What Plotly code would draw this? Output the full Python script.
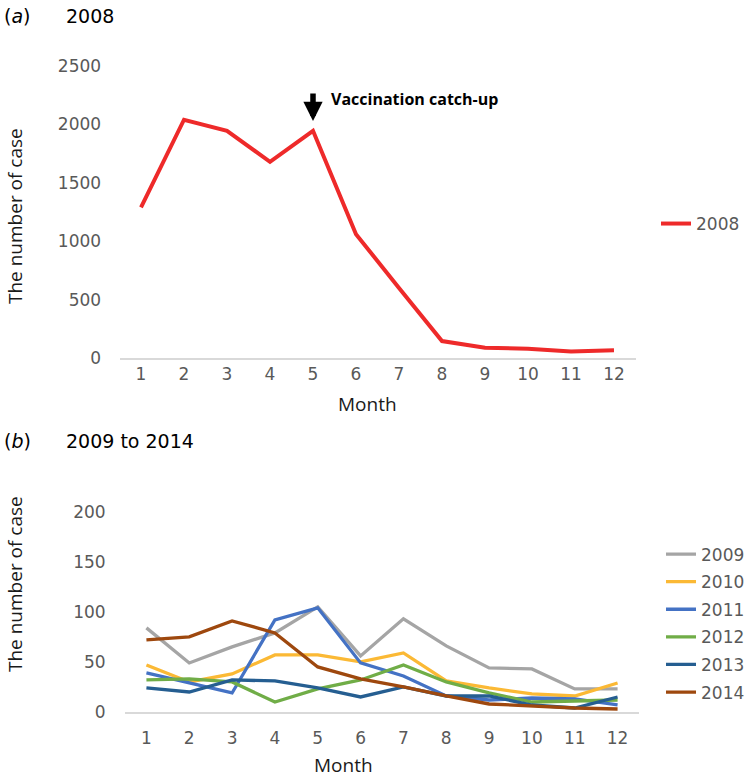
import plotly.graph_objects as go

months = list(range(1, 13))
month_labels = [str(m) for m in months]

cases_2008 = [1290, 2040, 1945, 1680, 1945, 1060, 600, 145, 88, 80, 55, 66]

years_b = ["2009", "2010", "2011", "2012", "2013", "2014"]
cases_2009 = [84, 49, 65, 79, 105, 56, 93, 66, 44, 43, 23, 23]
cases_2010 = [47, 30, 38, 57, 57, 50, 59, 31, 24, 18, 16, 29]
cases_2011 = [39, 29, 19, 92, 104, 49, 36, 16, 12, 14, 13, 7]
cases_2012 = [32, 33, 30, 10, 23, 32, 47, 30, 19, 10, 11, 12]
cases_2013 = [24, 20, 32, 31, 24, 15, 25, 16, 16, 7, 4, 15]
cases_2014 = [72, 75, 91, 79, 45, 33, 25, 16, 8, 6, 4, 3]
series_b = [cases_2009, cases_2010, cases_2011, cases_2012, cases_2013, cases_2014]

colors_b = ["#A5A5A5", "#FBB935", "#4472C4", "#70AD47", "#255E91", "#9E480E"]
color_2008 = "#EE2A2A"

W, H = 751, 781


def px(x):
    return x / W


def py(y):
    return 1 - y / H


tick_font = dict(family="DejaVu Sans, sans-serif", size=17, color="#595959")
title_font = dict(family="Open Sans, sans-serif", size=19, color="#1a1a1a")
head_font = dict(family="DejaVu Sans, sans-serif", size=19, color="black")

fig = go.Figure()

fig.add_trace(go.Scatter(x=months, y=cases_2008, mode="lines", name="2008",
                         legendgroup="2008",
                         line=dict(color=color_2008, width=4),
                         xaxis="x", yaxis="y", legend="legend3"))

for name, vals, col in zip(years_b, series_b, colors_b):
    fig.add_trace(go.Scatter(x=months, y=vals, mode="lines", name=name,
                             legendgroup=name,
                             line=dict(color=col, width=3.3),
                             xaxis="x2", yaxis="y2", legend="legend2"))

axis_common = dict(showgrid=False, zeroline=False,
                   tickcolor="rgba(0,0,0,0)", tickfont=tick_font, fixedrange=True)

fig.update_layout(
    width=W, height=H,
    margin=dict(l=0, r=0, t=0, b=0, autoexpand=False),
    paper_bgcolor="white", plot_bgcolor="white",
    xaxis=dict(domain=[px(119.5), px(635.5)], range=[0.5, 12.5],
               tickmode="array", tickvals=months, ticktext=month_labels,
               showline=True, linecolor="#D9D9D9", linewidth=1.5,
               ticks="", anchor="y", **axis_common),
    yaxis=dict(domain=[py(358), py(66)], range=[0, 2500],
               tickvals=[0, 500, 1000, 1500, 2000, 2500],
               showline=False, ticks="outside", ticklen=14, anchor="x", **axis_common),
    xaxis2=dict(domain=[px(125), px(639)], range=[0.5, 12.5],
                tickmode="array", tickvals=months, ticktext=month_labels,
                showline=True, linecolor="#D9D9D9", linewidth=1.5,
                ticks="outside", ticklen=10, anchor="y2", **axis_common),
    yaxis2=dict(domain=[py(712), py(511.7)], range=[0, 200],
                tickvals=[0, 50, 100, 150, 200],
                showline=False, ticks="outside", ticklen=15, anchor="x2", **axis_common),
    legend3=dict(x=px(745), y=py(224), xanchor="right", yanchor="middle",
                 font=tick_font, bgcolor="rgba(0,0,0,0)", itemwidth=30,
                 tracegroupgap=2.5),
    legend2=dict(x=px(661), y=py(623.5), xanchor="left", yanchor="middle",
                 font=tick_font, bgcolor="rgba(0,0,0,0)", itemwidth=30,
                 tracegroupgap=2.5),
    showlegend=True,
)

annots = [
    dict(text="(<i>a</i>)", x=px(2), y=py(16), xref="paper", yref="paper",
         xanchor="left", yanchor="middle", showarrow=False, font=head_font),
    dict(text="2008", x=px(64), y=py(16), xref="paper", yref="paper",
         xanchor="left", yanchor="middle", showarrow=False, font=head_font),
    dict(text="(<i>b</i>)", x=px(2), y=py(441), xref="paper", yref="paper",
         xanchor="left", yanchor="middle", showarrow=False, font=head_font),
    dict(text="2009 to 2014", x=px(64), y=py(441), xref="paper", yref="paper",
         xanchor="left", yanchor="middle", showarrow=False, font=head_font),
    dict(text="The number of case", x=px(15), y=py(216), xref="paper", yref="paper",
         textangle=-90, xanchor="center", yanchor="middle", showarrow=False,
         font=title_font),
    dict(text="The number of case", x=px(15), y=py(584), xref="paper", yref="paper",
         textangle=-90, xanchor="center", yanchor="middle", showarrow=False,
         font=title_font),
    dict(text="Month", x=px(367), y=py(404), xref="paper", yref="paper",
         xanchor="center", yanchor="middle", showarrow=False, font=title_font),
    dict(text="Month", x=px(343), y=py(780), xref="paper", yref="paper",
         xanchor="center", yanchor="bottom", showarrow=False, font=title_font),
    dict(text="<b>Vaccination catch-up</b>", x=px(329), y=py(99),
         xref="paper", yref="paper", xanchor="left", yanchor="middle",
         showarrow=False,
         font=dict(family="Open Sans, sans-serif", size=16, color="black")),
    dict(text="", x=5, y=2030, xref="x", yref="y", showarrow=True,
         ax=0, ay=-29, arrowhead=2, arrowsize=0.7, arrowwidth=5.5,
         arrowcolor="black", standoff=0),
]
fig.update_layout(annotations=annots)

fig.write_html("out.html", config={"displayModeBar": False},
               post_script="document.body.style.margin='0';document.body.style.overflow='hidden';")
